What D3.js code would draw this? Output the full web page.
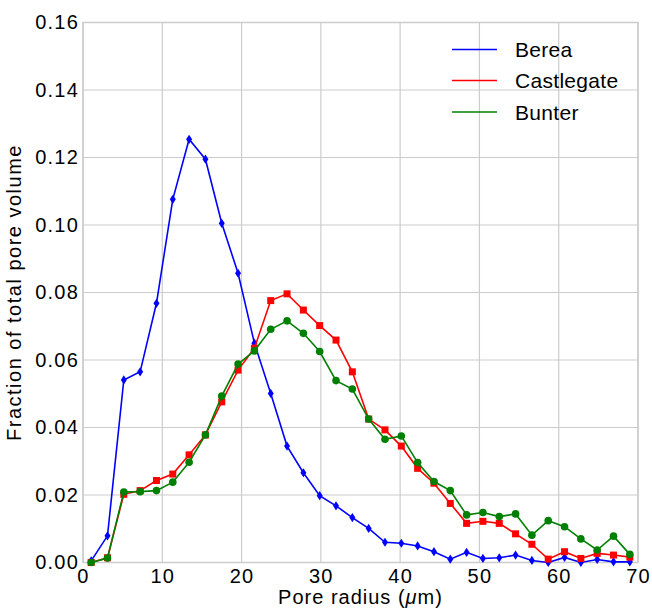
<!DOCTYPE html>
<html>
<head>
<meta charset="utf-8">
<script src="https://cdn.jsdelivr.net/npm/d3@7"></script>
<style>
  html, body { margin: 0; padding: 0; background: #fff; }
  text { font-family: "Liberation Sans", Arial, sans-serif; fill: #000; }
</style>
</head>
<body>
<svg id="chart" width="652" height="611"></svg>
<script>
// Pore radius bin centres (µm): 34 equal bins over 0–70
const binCount = 34;
const poreRadius = d3.range(binCount).map(i => (i + 0.5) * 70 / binCount);

const berea = [0.0005, 0.0079, 0.0541, 0.0565, 0.0768, 0.1076, 0.1254, 0.1195, 0.1005, 0.0857,
  0.0650, 0.0501, 0.0345, 0.0266, 0.0198, 0.0168, 0.0133, 0.0101, 0.0060, 0.0057,
  0.0049, 0.0032, 0.0010, 0.0030, 0.0012, 0.0014, 0.0022, 0.0006, 0.0000, 0.0015,
  0.0000, 0.0009, 0.0002, 0.0002];

const castlegate = [0.0000, 0.0014, 0.0202, 0.0213, 0.0243, 0.0262, 0.0319, 0.0378, 0.0476, 0.0570,
  0.0635, 0.0776, 0.0796, 0.0748, 0.0702, 0.0659, 0.0565, 0.0425, 0.0393, 0.0345,
  0.0279, 0.0235, 0.0175, 0.0116, 0.0122, 0.0116, 0.0085, 0.0054, 0.0010, 0.0032,
  0.0012, 0.0027, 0.0022, 0.0016];

const bunter = [0.0000, 0.0013, 0.0209, 0.0210, 0.0213, 0.0238, 0.0297, 0.0378, 0.0493, 0.0588,
  0.0627, 0.0691, 0.0716, 0.0679, 0.0625, 0.0539, 0.0514, 0.0425, 0.0365, 0.0375,
  0.0296, 0.0240, 0.0213, 0.0141, 0.0148, 0.0136, 0.0144, 0.0081, 0.0124, 0.0106,
  0.0070, 0.0037, 0.0078, 0.0024];

const seriesNames = ["Berea", "Castlegate", "Bunter"];
const seriesValues = [berea, castlegate, bunter];
const seriesColors = ["#0000ff", "#ff0000", "#008000"];
const seriesMarkers = ["thinDiamond", "square", "circle"];

const xTicks = [0, 10, 20, 30, 40, 50, 60, 70];
const yTicks = [0, 0.02, 0.04, 0.06, 0.08, 0.10, 0.12, 0.14, 0.16];

const margin = { left: 83, right: 14, top: 22.5, bottom: 48.5 };
const W = 652, H = 611;
const svg = d3.select("#chart");

const x = d3.scaleLinear().domain([0, 70]).range([margin.left, W - margin.right]);
const y = d3.scaleLinear().domain([0, 0.16]).range([H - margin.bottom, margin.top]);

const gridColor = "#cccccc";
const labelFont = "20px";

// Grid
const grid = svg.append("g");
grid.selectAll("line.gx").data(xTicks).join("line")
  .attr("x1", d => x(d)).attr("x2", d => x(d))
  .attr("y1", y(0)).attr("y2", y(0.16))
  .attr("stroke", gridColor).attr("stroke-width", 1.2);
grid.selectAll("line.gy").data(yTicks).join("line")
  .attr("y1", d => y(d)).attr("y2", d => y(d))
  .attr("x1", x(0)).attr("x2", x(70))
  .attr("stroke", gridColor).attr("stroke-width", 1.2);

// Frame
svg.append("rect")
  .attr("x", x(0)).attr("y", y(0.16))
  .attr("width", x(70) - x(0)).attr("height", y(0) - y(0.16))
  .attr("fill", "none").attr("stroke", gridColor).attr("stroke-width", 1.5);

// Axes (labels only, no tick marks)
const xAxis = svg.append("g").attr("transform", `translate(0,${y(0)})`)
  .call(d3.axisBottom(x).tickValues(xTicks).tickFormat(d3.format("d")).tickSize(0).tickPadding(6));
xAxis.select(".domain").remove();
xAxis.selectAll("text").style("font-size", labelFont).style("letter-spacing", "1.2px")
  .attr("font-family", "Liberation Sans, Arial, sans-serif");

const yAxis = svg.append("g").attr("transform", `translate(${x(0)},0)`)
  .call(d3.axisLeft(y).tickValues(yTicks).tickFormat(d3.format(".2f")).tickSize(0).tickPadding(4));
yAxis.select(".domain").remove();
yAxis.selectAll("text").style("font-size", labelFont).style("letter-spacing", "1.2px")
  .attr("font-family", "Liberation Sans, Arial, sans-serif");

// Axis titles
const xt = svg.append("text")
  .attr("x", (x(0) + x(70)) / 2).attr("y", 604)
  .attr("text-anchor", "middle").style("font-size", labelFont).style("letter-spacing", "1px");
xt.append("tspan").text("Pore radius (");
xt.append("tspan").attr("font-style", "italic").text("μ");
xt.append("tspan").text("m)");

svg.append("text")
  .attr("transform", `translate(21,${(y(0) + y(0.16)) / 2}) rotate(-90)`)
  .attr("text-anchor", "middle").style("font-size", labelFont).style("letter-spacing", "1.5px")
  .text("Fraction of total pore volume");

// Series
const line = d3.line().x(d => x(d[0])).y(d => y(d[1]));
const plot = svg.append("g");

function drawMarker(g, kind, color) {
  if (kind === "square") {
    g.append("rect").attr("x", -3.5).attr("y", -3.5).attr("width", 7).attr("height", 7).attr("fill", color);
  } else if (kind === "circle") {
    g.append("circle").attr("r", 3.8).attr("fill", color);
  } else {
    g.append("path").attr("d", "M0,-4.6 L3,0 L0,4.6 L-3,0 Z").attr("fill", color);
  }
}

seriesValues.forEach((vals, si) => {
  const pts = poreRadius.map((r, i) => [r, vals[i]]);
  plot.append("path").datum(pts)
    .attr("d", line).attr("fill", "none")
    .attr("stroke", seriesColors[si]).attr("stroke-width", 1.6);
  pts.forEach(p => {
    const g = plot.append("g").attr("transform", `translate(${x(p[0])},${y(p[1])})`);
    drawMarker(g, seriesMarkers[si], seriesColors[si]);
  });
});

// Legend
const legend = svg.append("g");
const legendY = [49.5, 80.5, 112];
seriesNames.forEach((name, i) => {
  legend.append("line")
    .attr("x1", 452).attr("x2", 497).attr("y1", legendY[i]).attr("y2", legendY[i])
    .attr("stroke", seriesColors[i]).attr("stroke-width", 1.6);
  legend.append("text")
    .attr("x", 515).attr("y", legendY[i] + 7.5)
    .style("font-size", "21px").style("letter-spacing", "0.3px").text(name);
});
</script>
</body>
</html>
